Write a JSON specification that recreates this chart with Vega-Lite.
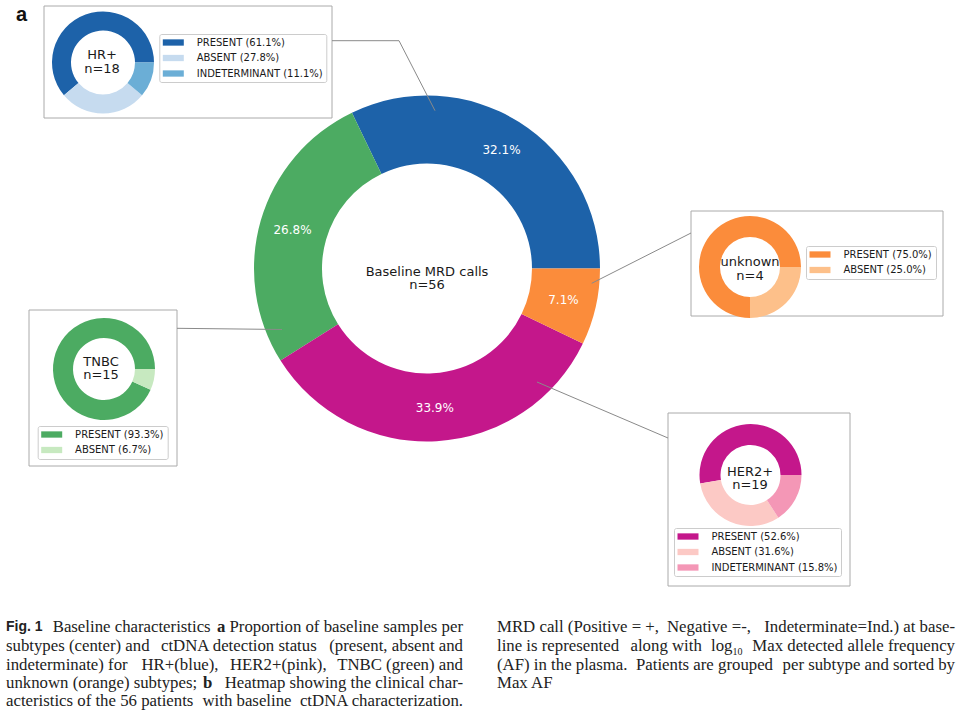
{
  "$schema": "https://vega.github.io/schema/vega-lite/v6.json",
  "width": 960,
  "height": 712,
  "autosize": "none",
  "padding": 0,
  "background": "white",
  "config": {
    "view": {"stroke": null},
    "legend": {
      "symbolType": "M-3,-0.9H3V0.9H-3Z",
      "symbolSize": 49,
      "symbolStrokeWidth": 0,
      "symbolOpacity": 1,
      "symbolOffset": 5.5,
      "labelOffset": 18.4,
      "padding": 3.5,
      "rowPadding": 5.5,
      "strokeColor": "#cccccc",
      "fillColor": "white",
      "cornerRadius": 2,
      "labelFont": "DejaVu Sans",
      "labelFontSize": 10,
      "labelColor": "#1a1a1a",
      "labelLimit": 400
    },
    "text": {"font": "Liberation Serif", "fontSize": 16.8, "color": "#222222", "baseline": "middle", "align": "left"}
  },
  "datasets": {
    "main": [
      {"cat": "HR+", "n": 18, "k": 4, "lbl": "32.1%"},
      {"cat": "TNBC", "n": 15, "k": 3, "lbl": "26.8%"},
      {"cat": "HER2+", "n": 19, "k": 2, "lbl": "33.9%"},
      {"cat": "unknown", "n": 4, "k": 1, "lbl": "7.1%"}
    ],
    "hr": [
      {"s": "PRESENT (61.1%)", "n": 11, "k": 3},
      {"s": "ABSENT (27.8%)", "n": 5, "k": 2},
      {"s": "INDETERMINANT (11.1%)", "n": 2, "k": 1}
    ],
    "tnbc": [
      {"s": "PRESENT (93.3%)", "n": 14, "k": 2},
      {"s": "ABSENT (6.7%)", "n": 1, "k": 1}
    ],
    "unk": [
      {"s": "PRESENT (75.0%)", "n": 3, "k": 2},
      {"s": "ABSENT (25.0%)", "n": 1, "k": 1}
    ],
    "her2": [
      {"s": "PRESENT (52.6%)", "n": 10, "k": 3},
      {"s": "ABSENT (31.6%)", "n": 6, "k": 2},
      {"s": "INDETERMINANT (15.8%)", "n": 3, "k": 1}
    ]
  },
  "data": {"values": [{}]},
  "resolve": {"scale": {"color": "independent"}},
  "layer": [
    {"mark": {"type": "rect", "fill": "white", "stroke": "#aaaaaa", "strokeWidth": 1},
     "encoding": {
       "x": {"datum": 44, "type": "quantitative", "scale": {"domain": [0, 960], "nice": false, "zero": false}, "axis": null},
       "x2": {"datum": 332},
       "y": {"datum": 6, "type": "quantitative", "scale": {"domain": [0, 712], "nice": false, "zero": false, "reverse": true}, "axis": null},
       "y2": {"datum": 118}}},
    {"mark": {"type": "rect", "fill": "white", "stroke": "#aaaaaa", "strokeWidth": 1},
     "encoding": {
       "x": {"datum": 691, "type": "quantitative", "scale": {"domain": [0, 960], "nice": false, "zero": false}, "axis": null},
       "x2": {"datum": 943},
       "y": {"datum": 211, "type": "quantitative", "scale": {"domain": [0, 712], "nice": false, "zero": false, "reverse": true}, "axis": null},
       "y2": {"datum": 316}}},
    {"mark": {"type": "rect", "fill": "white", "stroke": "#aaaaaa", "strokeWidth": 1},
     "encoding": {
       "x": {"datum": 29, "type": "quantitative", "scale": {"domain": [0, 960], "nice": false, "zero": false}, "axis": null},
       "x2": {"datum": 177},
       "y": {"datum": 310, "type": "quantitative", "scale": {"domain": [0, 712], "nice": false, "zero": false, "reverse": true}, "axis": null},
       "y2": {"datum": 466}}},
    {"mark": {"type": "rect", "fill": "white", "stroke": "#aaaaaa", "strokeWidth": 1},
     "encoding": {
       "x": {"datum": 668, "type": "quantitative", "scale": {"domain": [0, 960], "nice": false, "zero": false}, "axis": null},
       "x2": {"datum": 850},
       "y": {"datum": 413, "type": "quantitative", "scale": {"domain": [0, 712], "nice": false, "zero": false, "reverse": true}, "axis": null},
       "y2": {"datum": 586}}},

    {"data": {"name": "main"},
     "mark": {"type": "arc", "radius": 173, "radius2": 105},
     "encoding": {
       "x": {"datum": 427, "type": "quantitative", "scale": {"domain": [0, 960], "nice": false, "zero": false}, "axis": null},
       "y": {"datum": 268.5, "type": "quantitative", "scale": {"domain": [0, 712], "nice": false, "zero": false, "reverse": true}, "axis": null},
       "theta": {"field": "n", "type": "quantitative", "stack": "normalize", "scale": {"domain": [0, 1], "range": [1.5707963, 7.8539816]}},
       "order": {"field": "k", "type": "quantitative", "sort": "ascending"},
       "color": {"field": "cat", "type": "nominal", "legend": null,
                 "scale": {"domain": ["HR+", "TNBC", "HER2+", "unknown"], "range": ["#1d62a9", "#4cab62", "#c4178b", "#fb8c3b"]}}}},
    {"data": {"name": "main"},
     "mark": {"type": "text", "radius": 140, "font": "DejaVu Sans", "fontSize": 12, "color": "white", "align": "center", "baseline": "middle"},
     "encoding": {
       "x": {"datum": 427, "type": "quantitative", "scale": {"domain": [0, 960], "nice": false, "zero": false}, "axis": null},
       "y": {"datum": 268.5, "type": "quantitative", "scale": {"domain": [0, 712], "nice": false, "zero": false, "reverse": true}, "axis": null},
       "theta": {"field": "n", "type": "quantitative", "stack": "normalize", "scale": {"domain": [0, 1], "range": [1.5707963, 7.8539816]}},
       "order": {"field": "k", "type": "quantitative", "sort": "ascending"},
       "detail": {"field": "cat", "type": "nominal"},
       "text": {"field": "lbl"}}},
    {"mark": {"type": "text", "font": "DejaVu Sans", "fontSize": 13, "color": "#1a1a1a", "align": "center", "baseline": "middle", "lineHeight": 13.5},
     "encoding": {
       "x": {"datum": 427, "type": "quantitative", "scale": {"domain": [0, 960], "nice": false, "zero": false}, "axis": null},
       "y": {"datum": 271.7, "type": "quantitative", "scale": {"domain": [0, 712], "nice": false, "zero": false, "reverse": true}, "axis": null},
       "text": {"value": ["Baseline MRD calls", "n=56"]}}},

    {"data": {"name": "hr"},
     "mark": {"type": "arc", "radius": 51, "radius2": 32},
     "encoding": {
       "x": {"datum": 103, "type": "quantitative", "scale": {"domain": [0, 960], "nice": false, "zero": false}, "axis": null},
       "y": {"datum": 62.5, "type": "quantitative", "scale": {"domain": [0, 712], "nice": false, "zero": false, "reverse": true}, "axis": null},
       "theta": {"field": "n", "type": "quantitative", "stack": "normalize", "scale": {"domain": [0, 1], "range": [1.5707963, 7.8539816]}},
       "order": {"field": "k", "type": "quantitative", "sort": "ascending"},
       "color": {"field": "s", "type": "nominal",
                 "scale": {"domain": ["PRESENT (61.1%)", "ABSENT (27.8%)", "INDETERMINANT (11.1%)"], "range": ["#1d62a9", "#c6dbef", "#6baed6"]},
                 "legend": {"orient": "none", "legendX": 159.3, "legendY": 34, "title": null}}}},
    {"mark": {"type": "text", "font": "DejaVu Sans", "fontSize": 13, "color": "#1a1a1a", "align": "center", "baseline": "middle", "lineHeight": 13.5},
     "encoding": {
       "x": {"datum": 102, "type": "quantitative", "scale": {"domain": [0, 960], "nice": false, "zero": false}, "axis": null},
       "y": {"datum": 55, "type": "quantitative", "scale": {"domain": [0, 712], "nice": false, "zero": false, "reverse": true}, "axis": null},
       "text": {"value": ["HR+", "n=18"]}}},

    {"data": {"name": "tnbc"},
     "mark": {"type": "arc", "radius": 51, "radius2": 31},
     "encoding": {
       "x": {"datum": 104, "type": "quantitative", "scale": {"domain": [0, 960], "nice": false, "zero": false}, "axis": null},
       "y": {"datum": 369, "type": "quantitative", "scale": {"domain": [0, 712], "nice": false, "zero": false, "reverse": true}, "axis": null},
       "theta": {"field": "n", "type": "quantitative", "stack": "normalize", "scale": {"domain": [0, 1], "range": [1.5707963, 7.8539816]}},
       "order": {"field": "k", "type": "quantitative", "sort": "ascending"},
       "color": {"field": "s", "type": "nominal",
                 "scale": {"domain": ["PRESENT (93.3%)", "ABSENT (6.7%)"], "range": ["#4cab62", "#c7e9c0"]},
                 "legend": {"orient": "none", "legendX": 37.7, "legendY": 426, "title": null}}}},
    {"mark": {"type": "text", "font": "DejaVu Sans", "fontSize": 13, "color": "#1a1a1a", "align": "center", "baseline": "middle", "lineHeight": 13.5},
     "encoding": {
       "x": {"datum": 101, "type": "quantitative", "scale": {"domain": [0, 960], "nice": false, "zero": false}, "axis": null},
       "y": {"datum": 361.7, "type": "quantitative", "scale": {"domain": [0, 712], "nice": false, "zero": false, "reverse": true}, "axis": null},
       "text": {"value": ["TNBC", "n=15"]}}},

    {"data": {"name": "unk"},
     "mark": {"type": "arc", "radius": 51, "radius2": 30},
     "encoding": {
       "x": {"datum": 750, "type": "quantitative", "scale": {"domain": [0, 960], "nice": false, "zero": false}, "axis": null},
       "y": {"datum": 267, "type": "quantitative", "scale": {"domain": [0, 712], "nice": false, "zero": false, "reverse": true}, "axis": null},
       "theta": {"field": "n", "type": "quantitative", "stack": "normalize", "scale": {"domain": [0, 1], "range": [1.5707963, 7.8539816]}},
       "order": {"field": "k", "type": "quantitative", "sort": "ascending"},
       "color": {"field": "s", "type": "nominal",
                 "scale": {"domain": ["PRESENT (75.0%)", "ABSENT (25.0%)"], "range": ["#fb8c3b", "#fdc08a"]},
                 "legend": {"orient": "none", "legendX": 806, "legendY": 246, "title": null}}}},
    {"mark": {"type": "text", "font": "DejaVu Sans", "fontSize": 13, "color": "#1a1a1a", "align": "center", "baseline": "middle", "lineHeight": 14},
     "encoding": {
       "x": {"datum": 750, "type": "quantitative", "scale": {"domain": [0, 960], "nice": false, "zero": false}, "axis": null},
       "y": {"datum": 261.7, "type": "quantitative", "scale": {"domain": [0, 712], "nice": false, "zero": false, "reverse": true}, "axis": null},
       "text": {"value": ["unknown", "n=4"]}}},

    {"data": {"name": "her2"},
     "mark": {"type": "arc", "radius": 51, "radius2": 30},
     "encoding": {
       "x": {"datum": 750.5, "type": "quantitative", "scale": {"domain": [0, 960], "nice": false, "zero": false}, "axis": null},
       "y": {"datum": 475, "type": "quantitative", "scale": {"domain": [0, 712], "nice": false, "zero": false, "reverse": true}, "axis": null},
       "theta": {"field": "n", "type": "quantitative", "stack": "normalize", "scale": {"domain": [0, 1], "range": [1.5707963, 7.8539816]}},
       "order": {"field": "k", "type": "quantitative", "sort": "ascending"},
       "color": {"field": "s", "type": "nominal",
                 "scale": {"domain": ["PRESENT (52.6%)", "ABSENT (31.6%)", "INDETERMINANT (15.8%)"], "range": ["#c4178b", "#fcc9c5", "#f497b6"]},
                 "legend": {"orient": "none", "legendX": 674, "legendY": 528, "title": null}}}},
    {"mark": {"type": "text", "font": "DejaVu Sans", "fontSize": 13, "color": "#1a1a1a", "align": "center", "baseline": "middle", "lineHeight": 13.5},
     "encoding": {
       "x": {"datum": 750, "type": "quantitative", "scale": {"domain": [0, 960], "nice": false, "zero": false}, "axis": null},
       "y": {"datum": 471.7, "type": "quantitative", "scale": {"domain": [0, 712], "nice": false, "zero": false, "reverse": true}, "axis": null},
       "text": {"value": ["HER2+", "n=19"]}}},

    {"mark": {"type": "rule", "color": "#8a8a8a", "strokeWidth": 1},
     "encoding": {
       "x": {"datum": 332, "type": "quantitative", "scale": {"domain": [0, 960], "nice": false, "zero": false}, "axis": null},
       "x2": {"datum": 399},
       "y": {"datum": 40.7, "type": "quantitative", "scale": {"domain": [0, 712], "nice": false, "zero": false, "reverse": true}, "axis": null},
       "y2": {"datum": 40.7}}},
    {"mark": {"type": "rule", "color": "#8a8a8a", "strokeWidth": 1},
     "encoding": {
       "x": {"datum": 399, "type": "quantitative", "scale": {"domain": [0, 960], "nice": false, "zero": false}, "axis": null},
       "x2": {"datum": 435},
       "y": {"datum": 40.7, "type": "quantitative", "scale": {"domain": [0, 712], "nice": false, "zero": false, "reverse": true}, "axis": null},
       "y2": {"datum": 110.7}}},
    {"mark": {"type": "rule", "color": "#8a8a8a", "strokeWidth": 1},
     "encoding": {
       "x": {"datum": 691, "type": "quantitative", "scale": {"domain": [0, 960], "nice": false, "zero": false}, "axis": null},
       "x2": {"datum": 591.7},
       "y": {"datum": 233, "type": "quantitative", "scale": {"domain": [0, 712], "nice": false, "zero": false, "reverse": true}, "axis": null},
       "y2": {"datum": 283.3}}},
    {"mark": {"type": "rule", "color": "#8a8a8a", "strokeWidth": 1},
     "encoding": {
       "x": {"datum": 177, "type": "quantitative", "scale": {"domain": [0, 960], "nice": false, "zero": false}, "axis": null},
       "x2": {"datum": 282},
       "y": {"datum": 328.3, "type": "quantitative", "scale": {"domain": [0, 712], "nice": false, "zero": false, "reverse": true}, "axis": null},
       "y2": {"datum": 329.5}}},
    {"mark": {"type": "rule", "color": "#8a8a8a", "strokeWidth": 1},
     "encoding": {
       "x": {"datum": 668, "type": "quantitative", "scale": {"domain": [0, 960], "nice": false, "zero": false}, "axis": null},
       "x2": {"datum": 537},
       "y": {"datum": 438, "type": "quantitative", "scale": {"domain": [0, 712], "nice": false, "zero": false, "reverse": true}, "axis": null},
       "y2": {"datum": 382}}},

    {"mark": {"type": "text", "font": "Liberation Sans", "fontWeight": "bold", "fontSize": 20, "color": "#111111"},
     "encoding": {
       "x": {"datum": 16, "type": "quantitative", "scale": {"domain": [0, 960], "nice": false, "zero": false}, "axis": null},
       "y": {"datum": 15, "type": "quantitative", "scale": {"domain": [0, 712], "nice": false, "zero": false, "reverse": true}, "axis": null},
       "text": {"value": "a"}}},

    {"mark": {"type": "text", "font": "Liberation Sans", "fontWeight": "bold", "fontSize": 14},
     "encoding": {
       "x": {"datum": 6, "type": "quantitative", "scale": {"domain": [0, 960], "nice": false, "zero": false}, "axis": null},
       "y": {"datum": 627, "type": "quantitative", "scale": {"domain": [0, 712], "nice": false, "zero": false, "reverse": true}, "axis": null},
       "text": {"value": "Fig. 1"}}},
    {"mark": {"type": "text"},
     "encoding": {
       "x": {"datum": 52.7, "type": "quantitative", "scale": {"domain": [0, 960], "nice": false, "zero": false}, "axis": null},
       "y": {"datum": 627, "type": "quantitative", "scale": {"domain": [0, 712], "nice": false, "zero": false, "reverse": true}, "axis": null},
       "text": {"value": "Baseline characteristics"}}},
    {"mark": {"type": "text", "fontWeight": "bold"},
     "encoding": {
       "x": {"datum": 217, "type": "quantitative", "scale": {"domain": [0, 960], "nice": false, "zero": false}, "axis": null},
       "y": {"datum": 627, "type": "quantitative", "scale": {"domain": [0, 712], "nice": false, "zero": false, "reverse": true}, "axis": null},
       "text": {"value": "a"}}},
    {"mark": {"type": "text"},
     "encoding": {
       "x": {"datum": 229.5, "type": "quantitative", "scale": {"domain": [0, 960], "nice": false, "zero": false}, "axis": null},
       "y": {"datum": 627, "type": "quantitative", "scale": {"domain": [0, 712], "nice": false, "zero": false, "reverse": true}, "axis": null},
       "text": {"value": "Proportion of baseline"}}},
    {"mark": {"type": "text", "align": "right"},
     "encoding": {
       "x": {"datum": 463, "type": "quantitative", "scale": {"domain": [0, 960], "nice": false, "zero": false}, "axis": null},
       "y": {"datum": 627, "type": "quantitative", "scale": {"domain": [0, 712], "nice": false, "zero": false, "reverse": true}, "axis": null},
       "text": {"value": "samples per"}}},

    {"mark": {"type": "text"},
     "encoding": {
       "x": {"datum": 6, "type": "quantitative", "scale": {"domain": [0, 960], "nice": false, "zero": false}, "axis": null},
       "y": {"datum": 646, "type": "quantitative", "scale": {"domain": [0, 712], "nice": false, "zero": false, "reverse": true}, "axis": null},
       "text": {"value": "subtypes (center) and"}}},
    {"mark": {"type": "text"},
     "encoding": {
       "x": {"datum": 161, "type": "quantitative", "scale": {"domain": [0, 960], "nice": false, "zero": false}, "axis": null},
       "y": {"datum": 646, "type": "quantitative", "scale": {"domain": [0, 712], "nice": false, "zero": false, "reverse": true}, "axis": null},
       "text": {"value": "ctDNA detection status"}}},
    {"mark": {"type": "text", "align": "right"},
     "encoding": {
       "x": {"datum": 463, "type": "quantitative", "scale": {"domain": [0, 960], "nice": false, "zero": false}, "axis": null},
       "y": {"datum": 646, "type": "quantitative", "scale": {"domain": [0, 712], "nice": false, "zero": false, "reverse": true}, "axis": null},
       "text": {"value": "(present, absent and"}}},

    {"mark": {"type": "text"},
     "encoding": {
       "x": {"datum": 6, "type": "quantitative", "scale": {"domain": [0, 960], "nice": false, "zero": false}, "axis": null},
       "y": {"datum": 665, "type": "quantitative", "scale": {"domain": [0, 712], "nice": false, "zero": false, "reverse": true}, "axis": null},
       "text": {"value": "indeterminate) for"}}},
    {"mark": {"type": "text"},
     "encoding": {
       "x": {"datum": 141.5, "type": "quantitative", "scale": {"domain": [0, 960], "nice": false, "zero": false}, "axis": null},
       "y": {"datum": 665, "type": "quantitative", "scale": {"domain": [0, 712], "nice": false, "zero": false, "reverse": true}, "axis": null},
       "text": {"value": "HR+(blue),"}}},
    {"mark": {"type": "text"},
     "encoding": {
       "x": {"datum": 230, "type": "quantitative", "scale": {"domain": [0, 960], "nice": false, "zero": false}, "axis": null},
       "y": {"datum": 665, "type": "quantitative", "scale": {"domain": [0, 712], "nice": false, "zero": false, "reverse": true}, "axis": null},
       "text": {"value": "HER2+(pink),"}}},
    {"mark": {"type": "text", "align": "right"},
     "encoding": {
       "x": {"datum": 463, "type": "quantitative", "scale": {"domain": [0, 960], "nice": false, "zero": false}, "axis": null},
       "y": {"datum": 665, "type": "quantitative", "scale": {"domain": [0, 712], "nice": false, "zero": false, "reverse": true}, "axis": null},
       "text": {"value": "TNBC (green) and"}}},

    {"mark": {"type": "text"},
     "encoding": {
       "x": {"datum": 6, "type": "quantitative", "scale": {"domain": [0, 960], "nice": false, "zero": false}, "axis": null},
       "y": {"datum": 683, "type": "quantitative", "scale": {"domain": [0, 712], "nice": false, "zero": false, "reverse": true}, "axis": null},
       "text": {"value": "unknown (orange) subtypes;"}}},
    {"mark": {"type": "text", "fontWeight": "bold"},
     "encoding": {
       "x": {"datum": 203, "type": "quantitative", "scale": {"domain": [0, 960], "nice": false, "zero": false}, "axis": null},
       "y": {"datum": 683, "type": "quantitative", "scale": {"domain": [0, 712], "nice": false, "zero": false, "reverse": true}, "axis": null},
       "text": {"value": "b"}}},
    {"mark": {"type": "text", "align": "right"},
     "encoding": {
       "x": {"datum": 463, "type": "quantitative", "scale": {"domain": [0, 960], "nice": false, "zero": false}, "axis": null},
       "y": {"datum": 683, "type": "quantitative", "scale": {"domain": [0, 712], "nice": false, "zero": false, "reverse": true}, "axis": null},
       "text": {"value": "Heatmap showing the clinical char-"}}},

    {"mark": {"type": "text"},
     "encoding": {
       "x": {"datum": 6, "type": "quantitative", "scale": {"domain": [0, 960], "nice": false, "zero": false}, "axis": null},
       "y": {"datum": 701, "type": "quantitative", "scale": {"domain": [0, 712], "nice": false, "zero": false, "reverse": true}, "axis": null},
       "text": {"value": "acteristics of the 56 patients"}}},
    {"mark": {"type": "text"},
     "encoding": {
       "x": {"datum": 202.5, "type": "quantitative", "scale": {"domain": [0, 960], "nice": false, "zero": false}, "axis": null},
       "y": {"datum": 701, "type": "quantitative", "scale": {"domain": [0, 712], "nice": false, "zero": false, "reverse": true}, "axis": null},
       "text": {"value": "with baseline"}}},
    {"mark": {"type": "text", "align": "right"},
     "encoding": {
       "x": {"datum": 463, "type": "quantitative", "scale": {"domain": [0, 960], "nice": false, "zero": false}, "axis": null},
       "y": {"datum": 701, "type": "quantitative", "scale": {"domain": [0, 712], "nice": false, "zero": false, "reverse": true}, "axis": null},
       "text": {"value": "ctDNA characterization."}}},

    {"mark": {"type": "text"},
     "encoding": {
       "x": {"datum": 497, "type": "quantitative", "scale": {"domain": [0, 960], "nice": false, "zero": false}, "axis": null},
       "y": {"datum": 627, "type": "quantitative", "scale": {"domain": [0, 712], "nice": false, "zero": false, "reverse": true}, "axis": null},
       "text": {"value": "MRD call (Positive = +,"}}},
    {"mark": {"type": "text"},
     "encoding": {
       "x": {"datum": 667, "type": "quantitative", "scale": {"domain": [0, 960], "nice": false, "zero": false}, "axis": null},
       "y": {"datum": 627, "type": "quantitative", "scale": {"domain": [0, 712], "nice": false, "zero": false, "reverse": true}, "axis": null},
       "text": {"value": "Negative =-,"}}},
    {"mark": {"type": "text", "align": "right"},
     "encoding": {
       "x": {"datum": 955, "type": "quantitative", "scale": {"domain": [0, 960], "nice": false, "zero": false}, "axis": null},
       "y": {"datum": 627, "type": "quantitative", "scale": {"domain": [0, 712], "nice": false, "zero": false, "reverse": true}, "axis": null},
       "text": {"value": "Indeterminate=Ind.) at base-"}}},

    {"mark": {"type": "text"},
     "encoding": {
       "x": {"datum": 497, "type": "quantitative", "scale": {"domain": [0, 960], "nice": false, "zero": false}, "axis": null},
       "y": {"datum": 646, "type": "quantitative", "scale": {"domain": [0, 712], "nice": false, "zero": false, "reverse": true}, "axis": null},
       "text": {"value": "line is represented"}}},
    {"mark": {"type": "text"},
     "encoding": {
       "x": {"datum": 630.5, "type": "quantitative", "scale": {"domain": [0, 960], "nice": false, "zero": false}, "axis": null},
       "y": {"datum": 646, "type": "quantitative", "scale": {"domain": [0, 712], "nice": false, "zero": false, "reverse": true}, "axis": null},
       "text": {"value": "along with"}}},
    {"mark": {"type": "text"},
     "encoding": {
       "x": {"datum": 711, "type": "quantitative", "scale": {"domain": [0, 960], "nice": false, "zero": false}, "axis": null},
       "y": {"datum": 646, "type": "quantitative", "scale": {"domain": [0, 712], "nice": false, "zero": false, "reverse": true}, "axis": null},
       "text": {"value": "log"}}},
    {"mark": {"type": "text", "fontSize": 10},
     "encoding": {
       "x": {"datum": 732.5, "type": "quantitative", "scale": {"domain": [0, 960], "nice": false, "zero": false}, "axis": null},
       "y": {"datum": 651.5, "type": "quantitative", "scale": {"domain": [0, 712], "nice": false, "zero": false, "reverse": true}, "axis": null},
       "text": {"value": "10"}}},
    {"mark": {"type": "text", "align": "right"},
     "encoding": {
       "x": {"datum": 955, "type": "quantitative", "scale": {"domain": [0, 960], "nice": false, "zero": false}, "axis": null},
       "y": {"datum": 646, "type": "quantitative", "scale": {"domain": [0, 712], "nice": false, "zero": false, "reverse": true}, "axis": null},
       "text": {"value": "Max detected allele frequency"}}},

    {"mark": {"type": "text"},
     "encoding": {
       "x": {"datum": 497, "type": "quantitative", "scale": {"domain": [0, 960], "nice": false, "zero": false}, "axis": null},
       "y": {"datum": 665, "type": "quantitative", "scale": {"domain": [0, 712], "nice": false, "zero": false, "reverse": true}, "axis": null},
       "text": {"value": "(AF) in the plasma."}}},
    {"mark": {"type": "text"},
     "encoding": {
       "x": {"datum": 636, "type": "quantitative", "scale": {"domain": [0, 960], "nice": false, "zero": false}, "axis": null},
       "y": {"datum": 665, "type": "quantitative", "scale": {"domain": [0, 712], "nice": false, "zero": false, "reverse": true}, "axis": null},
       "text": {"value": "Patients are grouped"}}},
    {"mark": {"type": "text", "align": "right"},
     "encoding": {
       "x": {"datum": 955, "type": "quantitative", "scale": {"domain": [0, 960], "nice": false, "zero": false}, "axis": null},
       "y": {"datum": 665, "type": "quantitative", "scale": {"domain": [0, 712], "nice": false, "zero": false, "reverse": true}, "axis": null},
       "text": {"value": "per subtype and sorted by"}}},

    {"mark": {"type": "text"},
     "encoding": {
       "x": {"datum": 497, "type": "quantitative", "scale": {"domain": [0, 960], "nice": false, "zero": false}, "axis": null},
       "y": {"datum": 683, "type": "quantitative", "scale": {"domain": [0, 712], "nice": false, "zero": false, "reverse": true}, "axis": null},
       "text": {"value": "Max AF"}}}
  ]
}
